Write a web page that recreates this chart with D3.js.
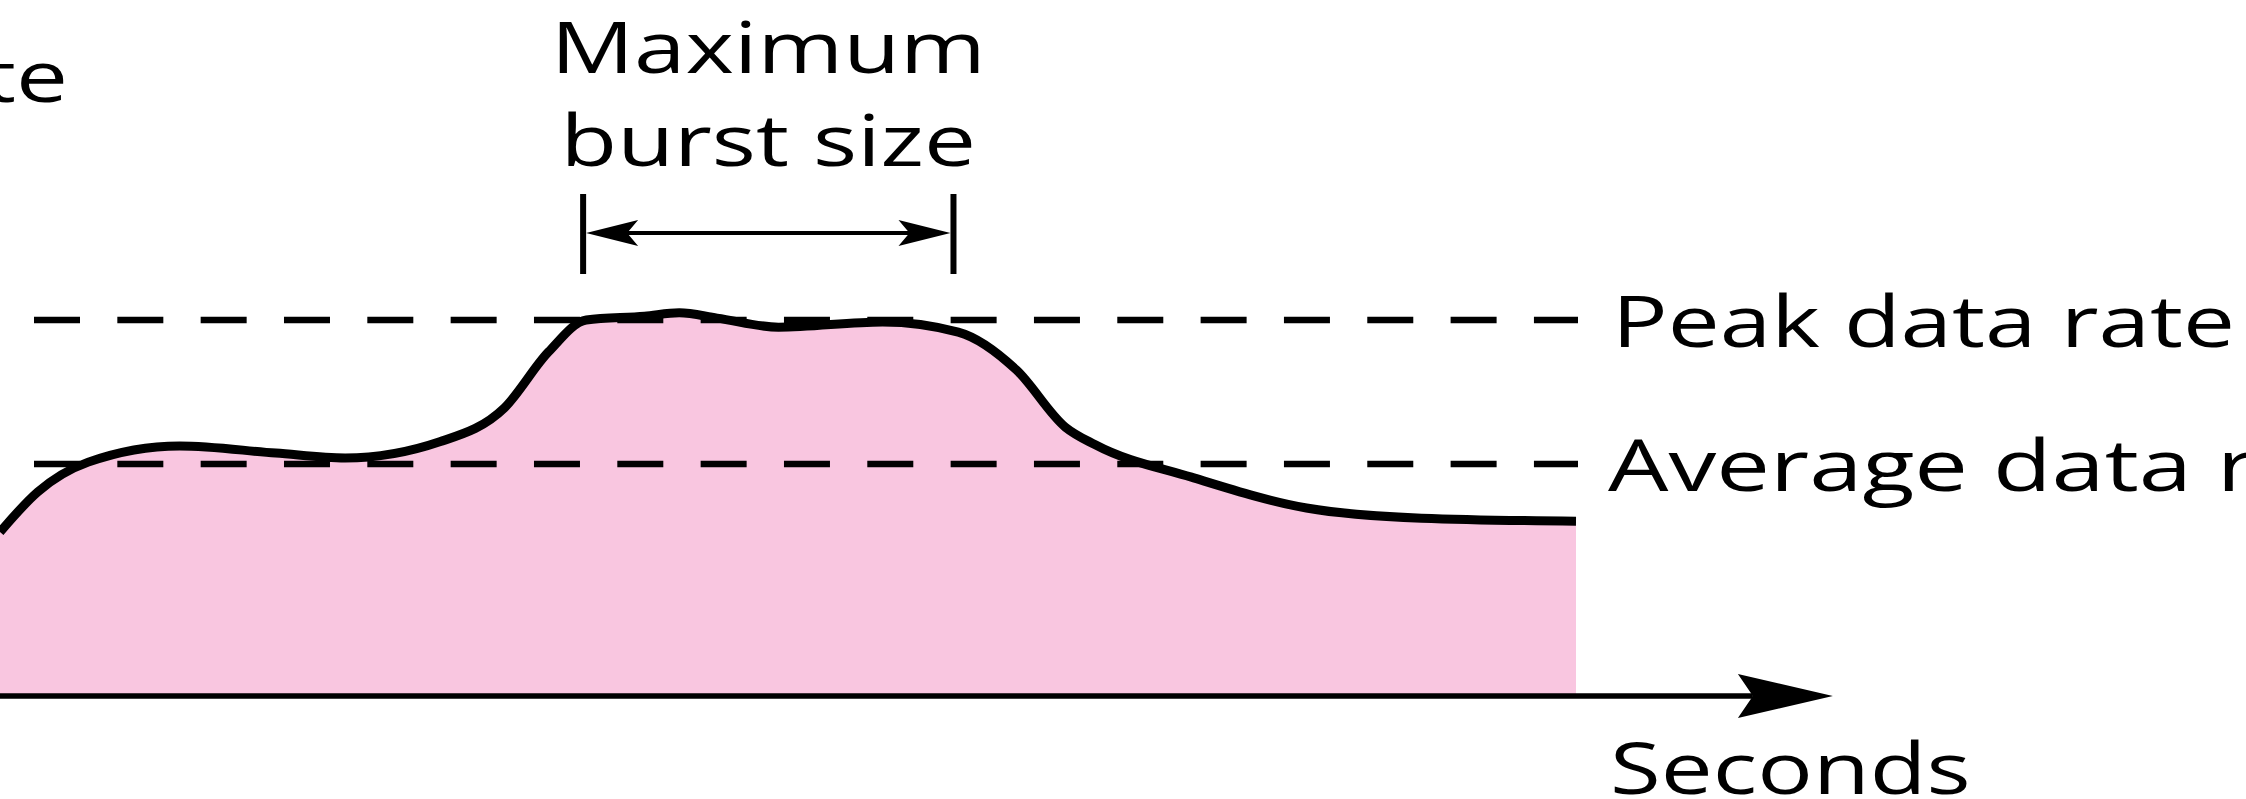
<!DOCTYPE html>
<html>
<head>
<meta charset="utf-8">
<script src="https://cdn.jsdelivr.net/npm/d3@7"></script>
<style>
  body { margin: 0; background: #fff; }
  svg { display: block; }
  text { font-family: "Open Sans", "Noto Sans", sans-serif; fill: #000; }
</style>
</head>
<body>
<div id="wrapper"></div>
<script>
// data (time in arbitrary seconds, rate in arbitrary units)
const timeSec = [0, 2.4, 5.6, 11.4, 17.5, 21.9, 27.9, 32.0, 34.8, 37.2, 40.9, 43.1, 45.5,
  49.4, 56.0, 60.8, 64.5, 67.6, 69.5, 75.6, 82.9, 90.2, 100];
const rateValue = [4.36, 5.43, 6.22, 6.65, 6.46, 6.33, 6.76, 7.66, 9.15, 10.0, 10.1, 10.19, 10.05,
  9.81, 9.95, 9.68, 8.67, 7.15, 6.68, 5.82, 5.0, 4.73, 4.65];

const peakRate = 10;
const avgRate = 6.17;
const burstStart = 37.0;
const burstEnd = 60.5;
const axisEnd = 116.3;

const yLabel = "Data rate";
const xLabel = "Seconds";
const peakLabel = "Peak data rate";
const avgLabel = "Average data rate";
const burstLabel = ["Maximum", "burst size"];

const dataset = timeSec.map((t, i) => ({ t: t, r: rateValue[i] }));

const width = 2246;
const height = 799;
const fontSize = 72;

const svg = d3.select("#wrapper")
  .append("svg")
  .attr("width", width)
  .attr("height", height);

const xScale = d3.scaleLinear()
  .domain([0, 100])
  .range([0, 1576]);

const yScale = d3.scaleLinear()
  .domain([0, peakRate])
  .range([696, 320]);

// filled area under the rate curve
const area = d3.area()
  .x(d => xScale(d.t))
  .y0(yScale(0))
  .y1(d => yScale(d.r))
  .curve(d3.curveMonotoneX);

svg.append("path")
  .datum(dataset)
  .attr("d", area)
  .attr("fill", "#f9c6e0");

// dashed reference lines
const refLines = [peakRate, avgRate];
svg.selectAll(".ref")
  .data(refLines)
  .enter()
  .append("line")
  .attr("class", "ref")
  .attr("x1", 34)
  .attr("x2", xScale(100) + 2)
  .attr("y1", d => yScale(d))
  .attr("y2", d => yScale(d))
  .attr("stroke", "#000")
  .attr("stroke-width", 6.5)
  .attr("stroke-dasharray", "46,37.33");

// rate curve
const line = d3.line()
  .x(d => xScale(d.t))
  .y(d => yScale(d.r))
  .curve(d3.curveMonotoneX);

svg.append("path")
  .datum(dataset)
  .attr("d", line)
  .attr("fill", "none")
  .attr("stroke", "#000")
  .attr("stroke-width", 9)
  .attr("stroke-linejoin", "round");

// x axis with arrow
const axisY = yScale(0);
const tipX = xScale(axisEnd);
svg.append("line")
  .attr("x1", -10)
  .attr("x2", tipX - 80)
  .attr("y1", axisY)
  .attr("y2", axisY)
  .attr("stroke", "#000")
  .attr("stroke-width", 5.5);

function arrowHead(tx, ty, dir, len, half, notch) {
  const p = d3.path();
  p.moveTo(tx, ty);
  p.lineTo(tx - dir * len, ty - half);
  p.lineTo(tx - dir * (len - notch), ty);
  p.lineTo(tx - dir * len, ty + half);
  p.closePath();
  return p.toString();
}

svg.append("path")
  .attr("d", arrowHead(tipX, axisY, 1, 95, 22, 15))
  .attr("fill", "#000");

// maximum burst size bracket
const bx1 = xScale(burstStart);
const bx2 = xScale(burstEnd);
const by = yScale(peakRate) - 87;
svg.selectAll(".bar")
  .data([bx1, bx2])
  .enter()
  .append("line")
  .attr("x1", d => d)
  .attr("x2", d => d)
  .attr("y1", by - 39)
  .attr("y2", by + 41)
  .attr("stroke", "#000")
  .attr("stroke-width", 6);

svg.append("line")
  .attr("x1", bx1 + 20)
  .attr("x2", bx2 - 20)
  .attr("y1", by)
  .attr("y2", by)
  .attr("stroke", "#000")
  .attr("stroke-width", 4);

svg.append("path")
  .attr("d", arrowHead(bx1 + 3, by, -1, 52, 13, 11))
  .attr("fill", "#000");
svg.append("path")
  .attr("d", arrowHead(bx2 - 3, by, 1, 52, 13, 11))
  .attr("fill", "#000");

// labels; the figure's lettering is wider than Open Sans, so stretch it
function natural(str) {
  const probe = svg.append("text").attr("font-size", fontSize).text(str);
  const len = probe.node().getComputedTextLength();
  probe.remove();
  return len;
}
// measured width of "Peak data rate" in the figure is 623 px
const stretch = 623 / natural(peakLabel);

function addText(str, x, y, anchor, k) {
  const t = svg.append("text")
    .attr("x", x)
    .attr("y", y)
    .attr("font-size", fontSize)
    .attr("text-anchor", anchor)
    .text(str);
  const len = t.node().getComputedTextLength();
  t.attr("textLength", len * (k || stretch))
    .attr("lengthAdjust", "spacingAndGlyphs");
  return t;
}

const burstMid = (bx1 + bx2) / 2;
addText(burstLabel[0], burstMid, 73, "middle");
addText(burstLabel[1], burstMid, 166, "middle");
addText(peakLabel, xScale(100) + 36, yScale(peakRate) + 27, "start");
// "Average data" is 584 px wide in the figure, then the "r" is clipped
addText(avgLabel, xScale(100) + 32, yScale(avgRate) + 27, "start", 584 / natural("Average data"));
addText(xLabel, xScale(100) + 34, 794, "start");
addText(yLabel, 68, 102, "end");
</script>
</body>
</html>
